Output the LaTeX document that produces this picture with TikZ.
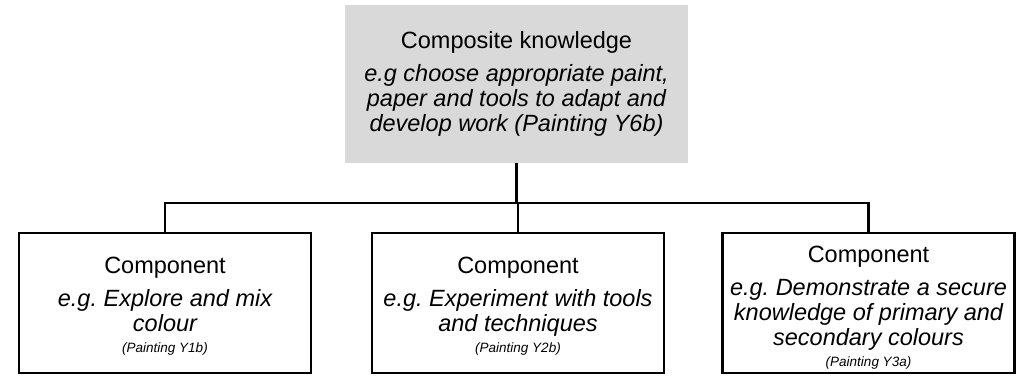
\documentclass[tikz,border=0pt]{standalone}
\usepackage{fontspec}
\setmainfont{Liberation Sans}
\definecolor{topgrey}{HTML}{D9D9D9}
\frenchspacing
\begin{document}
\begin{tikzpicture}[x=1pt,y=1pt,
  big/.style={font=\fontsize{23.5}{25}\selectfont},
  topbox/.style={fill=topgrey, draw=none, minimum width=343pt, minimum height=158pt, align=center, inner sep=0pt, big},
  compbox/.style={draw=black, line width=2.6pt, minimum width=292pt, minimum height=140pt, inner sep=0pt},
  comptext/.style={align=center, inner sep=0pt, big},
  link/.style={draw=black, line width=2.6pt}]
\useasboundingbox (0,0) rectangle (1022,378);
\newcommand{\smallnote}[1]{{\fontsize{13.5}{15}\selectfont\itshape #1}}
\node[topbox] (top) at (516.5,294) {Composite knowledge\\[8pt]
  {\itshape e.g choose appropriate paint,}\\
  {\itshape paper and tools to adapt and}\\
  {\itshape develop work (Painting Y6b)}};
\node[compbox] (b1) at (165,75) {};
\node[compbox] (b2) at (518,75) {};
\node[compbox] (b3) at (868.5,75) {};
\node[comptext] (t1) at ([yshift=-3pt]b1.center) {Component\\[8pt]
  {\itshape e.g. Explore and mix}\\
  {\itshape colour}\\[-4pt]
  \smallnote{(Painting Y1b)}};
\node[comptext] (t2) at ([yshift=-3pt]b2.center) {Component\\[8pt]
  {\itshape e.g. Experiment with tools}\\
  {\itshape and techniques}\\[-4pt]
  \smallnote{(Painting Y2b)}};
\node[comptext] (t3) at ([yshift=-5pt]b3.center) {Component\\[8pt]
  {\itshape e.g. Demonstrate a secure}\\
  {\itshape knowledge of primary and}\\
  {\itshape secondary colours}\\[-4pt]
  \smallnote{(Painting Y3a)}};
\coordinate (bar) at (516.5,175);
\draw[link] (top.south) -- (top.south |- bar);
\draw[link] (b1.north) -- (b1.north |- bar) -- (b3.north |- bar) -- (b3.north);
\draw[link] (b2.north) -- (b2.north |- bar);
\end{tikzpicture}
\end{document}
